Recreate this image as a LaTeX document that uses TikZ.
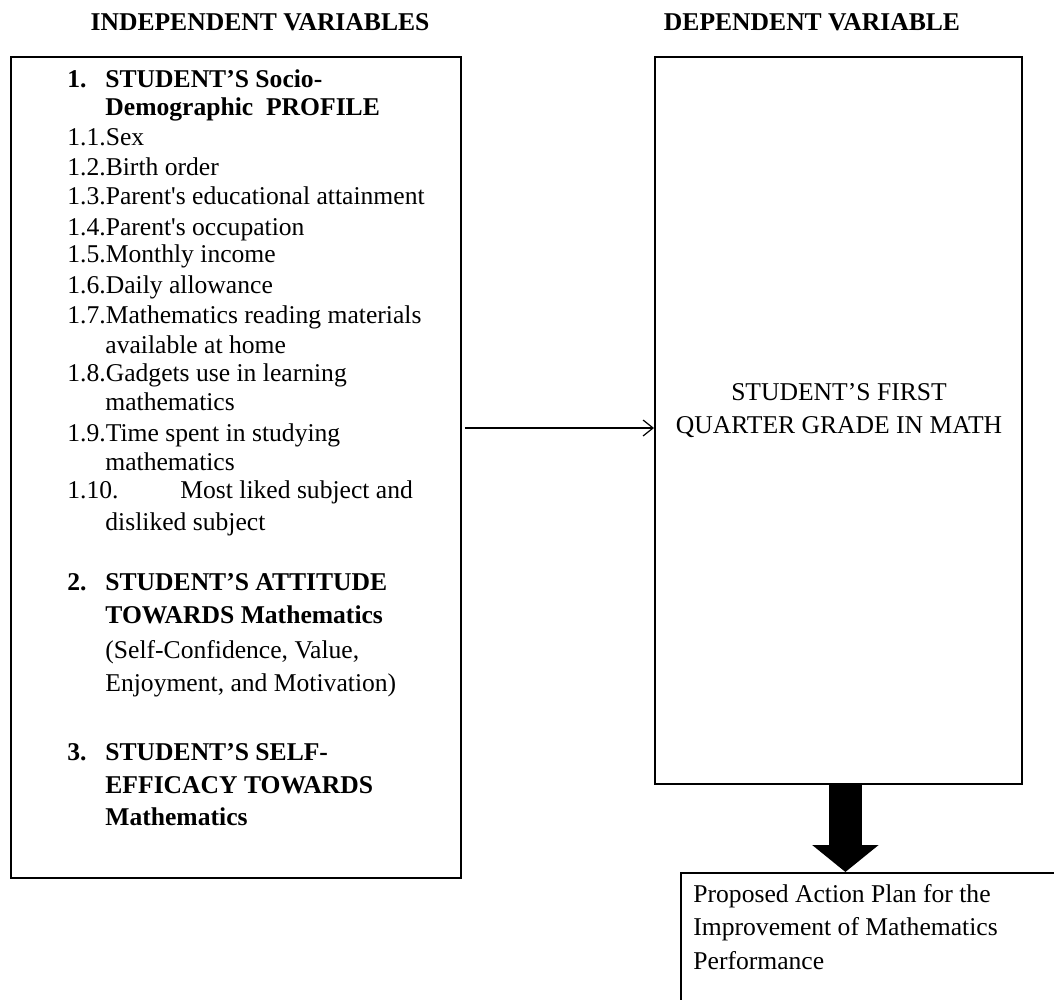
\documentclass[tikz,border=0pt]{standalone}
\usepackage{fontspec}
\setmainfont{Liberation Serif}[Ligatures=TeXOff]
\usetikzlibrary{arrows.meta}

\def\pxu{0.5pt}

\begin{document}
\begin{tikzpicture}[x=0.5pt, y=-0.5pt,
    every node/.style={font=\fontsize{12.8}{14.7}\selectfont},
    box/.style={draw, line width=0.9pt, rectangle, anchor=north west, inner sep=0pt},
    txt/.style={anchor=base west, inner sep=0pt},
    heading/.style={anchor=base, inner sep=0pt, font=\fontsize{12.8}{14.7}\selectfont\bfseries},
    link/.style={line width=0.6pt, -{Straight Barb[length=5pt,width=8pt]}},
    bigarrow/.style={line width=16.5pt, -{Triangle[length=13.5pt,width=32.5pt]}}]
    \useasboundingbox (0,0) rectangle (1054,1000);
    \clip (0,0) rectangle (1054,1000);
    % column headings
    \node[heading] (hindep) at (260,30.5) {INDEPENDENT VARIABLES};
    \node[heading] (hdep) at (812,30.5) {DEPENDENT VARIABLE};
    % the three boxes
    \node[box, minimum width=450*\pxu, minimum height=821*\pxu] (indep) at (10,56) {};
    \node[box, minimum width=367*\pxu, minimum height=727*\pxu] (dep) at (654,56) {};
    \node[box, minimum width=420*\pxu, minimum height=180*\pxu] (plan) at (680,872) {};
    % left box, line by line
    \foreach \xx/\yy/\txt [count=\i] in {
        67/88/{\textbf{1.}}, 105/88/{\textbf{STUDENT’S Socio-}}, 105/116/{\textbf{Demographic\ \ PROFILE}},
        67/146/{1.1.Sex}, 67/176/{1.2.Birth order}, 67/205/{1.3.Parent's educational attainment},
        67/235/{1.4.Parent's occupation}, 67/263/{1.5.Monthly income}, 67/293/{1.6.Daily allowance},
        67/323/{1.7.Mathematics reading materials}, 105/353/{available at home},
        67/381/{1.8.Gadgets use in learning}, 105/410/{mathematics},
        67/441/{1.9.Time spent in studying}, 105/470/{mathematics},
        67/498/{1.10.}, 180/498/{Most liked subject and}, 105/530/{disliked subject},
        67/590/{\textbf{2.}}, 105/590/{\textbf{STUDENT’S ATTITUDE}}, 105/623/{\textbf{TOWARDS Mathematics}},
        105/658/{(Self-Confidence, Value,}, 105/691/{Enjoyment, and Motivation)},
        67/760/{\textbf{3.}}, 105/760/{\textbf{STUDENT’S SELF-}}, 105/793/{\textbf{EFFICACY TOWARDS}},
        105/825/{\textbf{Mathematics}}}
        \node[txt] (l\i) at (\xx,\yy) {\txt};
    % right box and plan text (base = last line)
    \node[anchor=base, inner sep=0pt, align=center, font=\fontsize{12.8}{16.5}\selectfont] (grade) at (839,433.5)
        {STUDENT’S FIRST\\QUARTER GRADE IN MATH};
    \node[txt, align=left, font=\fontsize{12.8}{16.75}\selectfont] (plantxt) at (693,969)
        {Proposed Action Plan for the\\Improvement of Mathematics\\Performance};
    % connectors
    \draw[link] ([xshift=1.5pt]indep.east |- 0,428) -- (dep.west |- 0,428);
    \draw[bigarrow] ([xshift=3.5pt]dep.south) -- ([xshift=3.5pt]dep.south |- plan.north);
\end{tikzpicture}
\end{document}
